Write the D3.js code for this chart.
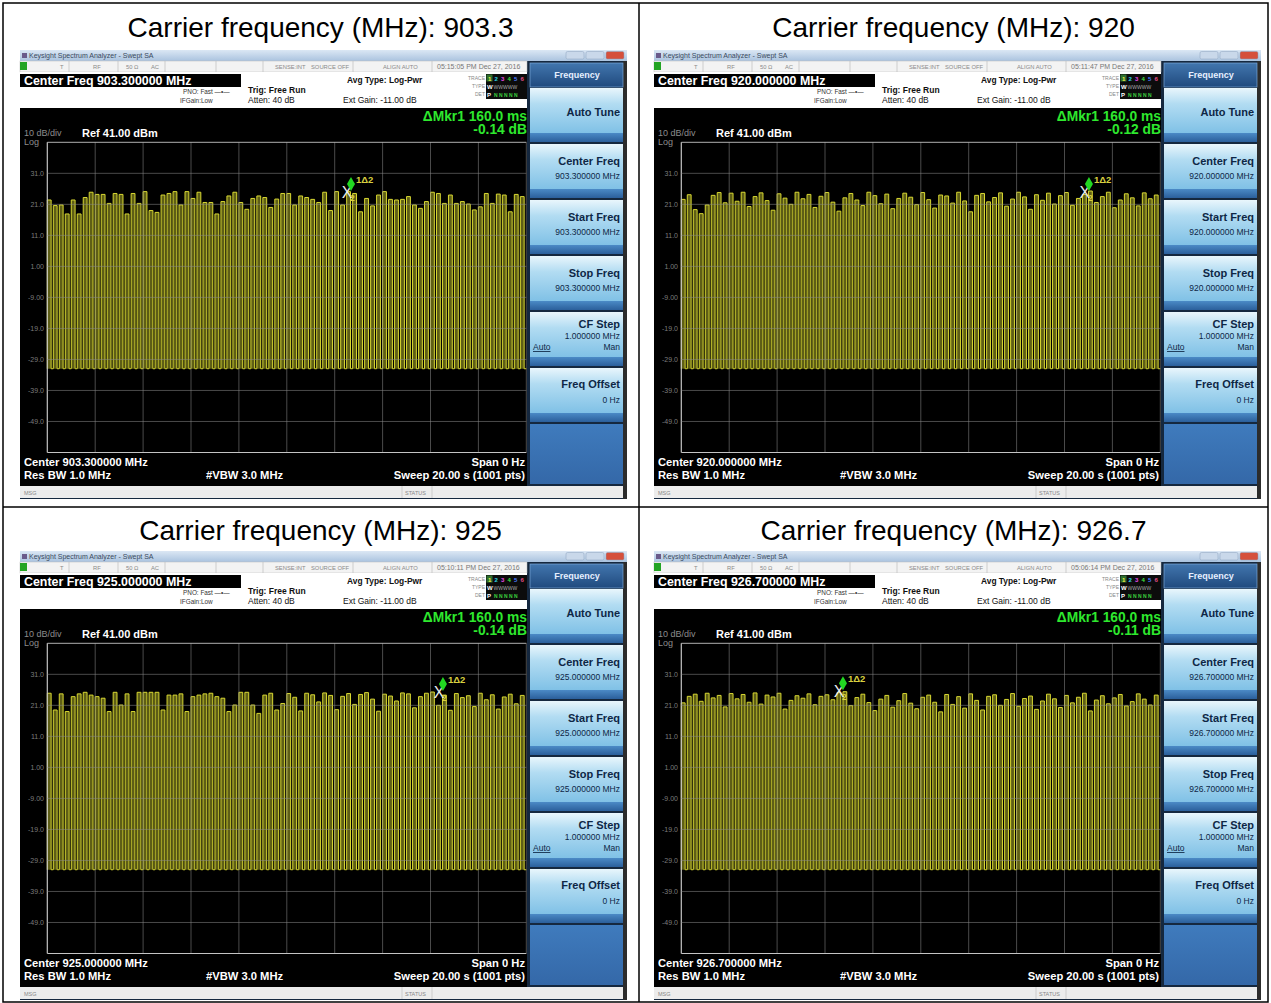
<!DOCTYPE html>
<html>
<head>
<meta charset="utf-8">
<script src="https://cdn.jsdelivr.net/npm/d3@7"></script>
<style>
body { margin: 0; background: #fff; }
svg { display: block; }
text { font-family: "Liberation Sans", Arial, sans-serif; }
</style>
</head>
<body>
<script>
// ---- data ----
const carrierLabels = ['903.3', '920', '925', '926.7']
const centerFreqs = ['903.300000 MHz', '920.000000 MHz', '925.000000 MHz', '926.700000 MHz']
const clockTimes = ['05:15:05 PM Dec 27, 2016', '05:11:47 PM Dec 27, 2016', '05:10:11 PM Dec 27, 2016', '05:06:14 PM Dec 27, 2016']
const markerDeltaTime = '\u0394Mkr1 160.0 ms'
const markerDeltaDb = ['-0.14 dB', '-0.12 dB', '-0.14 dB', '-0.11 dB']
const markerTimes = [12.68, 17.02, 16.52, 6.75]   // s
const markerLevels = [25.3, 25.3, 25.6, 25.9]    // dBm

const sweepTime = 20        // s
const pulsePeriod = 0.25    // s
const pulseWidth = 0.16     // s
const noiseFloor = -32      // dBm
const refLevel = 41
const dbPerDiv = 10

const pulsePeaks903 = [
    22.4, 20.6, 20.8, 17.9, 22.4, 17.9, 23.2, 24.9, 24.2, 24.2,
    21.3, 24.5, 24.2, 17.9, 24.5, 21.3, 25.1, 19.0, 18.4, 24.0,
    24.5, 25.1, 20.8, 25.1, 22.9, 24.9, 21.6, 21.6, 17.9, 21.9,
    23.7, 24.9, 21.6, 19.4, 22.9, 23.7, 23.2, 20.0, 22.7, 24.5,
    24.5, 20.8, 23.7, 23.2, 22.6, 21.6, 24.9, 19.0, 25.1, 20.8,
    25.1, 24.5, 18.6, 22.9, 20.5, 24.0, 25.1, 22.6, 22.4, 22.6,
    23.5, 20.8, 19.7, 21.9, 24.9, 24.5, 21.3, 24.0, 21.3, 21.9,
    21.1, 19.2, 20.2, 24.5, 21.3, 24.3, 24.0, 18.6, 24.2, 23.5
]
const pulsePeaks920 = [
    22.6, 24.1, 19.3, 18.0, 20.8, 23.9, 24.8, 21.5, 24.6, 22.0,
    24.9, 20.3, 23.5, 24.7, 22.2, 19.1, 24.4, 23.0, 21.0, 24.9,
    22.8, 24.2, 20.0, 23.6, 24.8, 21.7, 18.8, 23.1, 24.5, 22.4,
    20.6, 24.9, 23.8, 21.2, 24.3, 19.6, 22.9, 24.6, 23.3, 20.9,
    24.8, 22.5, 19.8, 24.0, 23.7, 21.4, 24.9, 22.1, 18.6, 23.9,
    24.5, 21.8, 23.2, 24.7, 20.4, 22.7, 24.9, 23.4, 19.4, 24.1,
    22.3, 24.6, 21.1, 23.8, 24.8, 20.7, 22.9, 24.2, 25.3, 21.6,
    23.5, 24.9, 19.9, 22.4, 24.4, 23.1, 20.5, 24.7, 22.8, 24.0
]
const pulsePeaks925 = [
    24.9, 19.5, 24.7, 19.0, 23.8, 24.7, 25.2, 24.3, 23.8, 23.3,
    19.0, 25.2, 21.1, 24.7, 19.0, 25.2, 25.2, 25.2, 25.2, 19.5,
    24.3, 24.3, 24.7, 19.0, 23.8, 24.3, 24.7, 24.9, 23.8, 23.3,
    19.0, 21.1, 25.2, 25.2, 21.1, 18.4, 24.3, 24.9, 19.5, 21.6,
    24.8, 23.6, 19.2, 24.9, 24.4, 22.1, 25.0, 24.2, 19.6, 23.9,
    24.8, 21.3, 24.5, 25.1, 23.0, 19.1, 24.6, 24.0, 22.4, 25.0,
    24.7, 20.2, 23.8, 24.9, 25.3, 21.0, 24.3, 19.4, 24.8, 23.5,
    24.1, 20.6, 24.9, 22.8, 24.4, 19.8, 23.7, 24.6, 21.5, 24.2
]
const pulsePeaks926 = [
    21.8, 23.9, 24.6, 22.3, 24.9, 23.4, 24.2, 20.5, 24.8, 23.1,
    24.5, 22.0, 25.0, 21.4, 24.3, 23.7, 24.9, 19.8, 22.6, 24.1,
    23.3, 24.7, 21.2, 23.9, 24.4, 22.8, 25.1, 25.4, 20.9, 23.5,
    24.6, 21.9, 19.3, 23.0, 24.2, 20.4, 22.5, 24.8, 21.7, 19.9,
    23.6, 24.3, 22.0, 18.9, 24.5, 21.3, 23.8, 20.1, 24.7, 22.6,
    19.5, 23.9, 24.4, 21.0, 22.9, 24.8, 20.7, 23.2, 24.0, 19.7,
    22.4, 24.6, 23.1, 20.3, 24.2, 21.8, 23.6, 24.9, 19.2, 22.7,
    24.1, 21.5, 23.4, 24.5, 20.8, 22.2, 24.7, 23.0, 21.1, 24.3
]
const pulsePeaks = [pulsePeaks903, pulsePeaks920, pulsePeaks925, pulsePeaks926]

const yTickValues = [31, 21, 11, 1, -9, -19, -29, -39, -49]
const yTickLabels = ['31.0', '21.0', '11.0', '1.00', '-9.00', '-19.0', '-29.0', '-39.0', '-49.0']
const menuTitles = ['Auto Tune', 'Center Freq', 'Start Freq', 'Stop Freq', 'CF Step', 'Freq Offset']

// ---- page layout ----
const W = 1271, H = 1003
const panelOrigins = [[20, 50], [654, 50], [20, 551], [654, 551]]
const titleCenters = [[320.5, 37], [953.5, 37], [320.5, 540], [953.5, 540]]

const svg = d3.select('body').append('svg')
    .attr('width', W)
    .attr('height', H)

svg.append('rect').attr('width', W).attr('height', H).attr('fill', '#fff')

const defs = svg.append('defs')
function grad(id, stops) {
    const lg = defs.append('linearGradient').attr('id', id)
        .attr('x1', 0).attr('y1', 0).attr('x2', 0).attr('y2', 1)
    stops.forEach(s => lg.append('stop').attr('offset', s[0]).attr('stop-color', s[1]))
}
grad('titleGrad', [[0, '#dbe7f4'], [1, '#aac3df']])
grad('btnGrad', [[0, '#e9f6fc'], [0.35, '#b2dcf2'], [1, '#80c1e6']])
grad('stripGrad', [[0, '#4b8ac6'], [1, '#2b5f9b']])
grad('headGrad', [[0, '#4276ae'], [1, '#204a7e']])
grad('emptyGrad', [[0, '#3f7bbd'], [1, '#3468a8']])

// table lines
const tbl = svg.append('g').attr('stroke', '#000').attr('stroke-width', 1.5).attr('fill', 'none')
tbl.append('rect').attr('x', 3).attr('y', 3).attr('width', 1265).attr('height', 999)
tbl.append('line').attr('x1', 639).attr('x2', 639).attr('y1', 3).attr('y2', 1002)
tbl.append('line').attr('x1', 3).attr('x2', 1268).attr('y1', 507).attr('y2', 507)

titleCenters.forEach((c, k) => {
    svg.append('text')
        .attr('x', c[0]).attr('y', c[1])
        .attr('text-anchor', 'middle')
        .attr('font-size', 28)
        .attr('fill', '#000')
        .text('Carrier frequency (MHz): ' + carrierLabels[k])
})

function txt(g, x, y, s, size, fill, opts = {}) {
    return g.append('text')
        .attr('x', x).attr('y', y)
        .attr('font-size', size)
        .attr('fill', fill)
        .attr('font-weight', opts.bold ? 'bold' : null)
        .attr('text-anchor', opts.anchor || 'start')
        .text(s)
}

function drawPanel(k) {
    const [ox, oy] = panelOrigins[k]
    const g = svg.append('g').attr('transform', `translate(${ox},${oy})`)

    // frame + menu background
    g.append('rect').attr('width', 607).attr('height', 449).attr('fill', '#15283f')
    g.append('rect').attr('x', 603).attr('width', 4).attr('height', 449).attr('fill', '#2c2c2c')

    // window title bar
    g.append('rect').attr('width', 607).attr('height', 11).attr('fill', 'url(#titleGrad)')
    g.append('rect').attr('x', 2).attr('y', 3).attr('width', 5).attr('height', 5).attr('fill', '#6a5a8a')
    txt(g, 9, 8.3, 'Keysight Spectrum Analyzer - Swept SA', 7, '#3a4a5e')
    ;[[546, '#c9d8ea'], [566, '#c9d8ea'], [586, '#d5503c']].forEach(b => {
        g.append('rect').attr('x', b[0]).attr('y', 1.5).attr('width', 18).attr('height', 7.5)
            .attr('rx', 1.5).attr('fill', b[1]).attr('stroke', '#8aa0bc').attr('stroke-width', 0.5)
    })

    // status row
    g.append('rect').attr('y', 11).attr('width', 507).attr('height', 11).attr('fill', '#f3f3f3')
        .attr('stroke', '#bbb').attr('stroke-width', 0.5)
    g.append('rect').attr('y', 12).attr('width', 7).attr('height', 8).attr('fill', '#24a424')
    ;[49, 98, 145, 196, 243, 333, 412].forEach(x => {
        g.append('line').attr('x1', x).attr('x2', x).attr('y1', 11).attr('y2', 22)
            .attr('stroke', '#b5b5b5').attr('stroke-width', 0.6)
    })
    const st = [[40, 'T'], [73, 'RF'], [106, '50 \u03a9'], [131, 'AC'], [255, 'SENSE:INT'], [291, 'SOURCE OFF'],
        [363, 'ALIGN AUTO']]
    st.forEach(s => txt(g, s[0], 19, s[1], 5.8, '#8a8a8a'))
    txt(g, 417, 19, clockTimes[k], 7, '#777')

    // settings area
    g.append('rect').attr('y', 22).attr('width', 507).attr('height', 36).attr('fill', '#fff')
    g.append('rect').attr('y', 24).attr('width', 221).attr('height', 13).attr('fill', '#000')
    txt(g, 4, 35, 'Center Freq ' + centerFreqs[k], 12.4, '#fff', {bold: true})
    txt(g, 163, 44, 'PNO: Fast  \u2014\u2022\u2014', 6.4, '#333')
    txt(g, 160, 52.5, 'IFGain:Low', 6.4, '#333')
    txt(g, 228, 43, 'Trig: Free Run', 8.5, '#111', {bold: true})
    txt(g, 228, 53, 'Atten: 40 dB', 8.5, '#111')
    txt(g, 327, 33, 'Avg Type: Log-Pwr', 8.4, '#111', {bold: true})
    txt(g, 323, 52.5, 'Ext Gain: -11.00 dB', 8.5, '#111')

    // trace/type/det box
    ;[[30, 'TRACE'], [38, 'TYPE'], [46, 'DET']].forEach(r => txt(g, 465, r[0], r[1], 5, '#888', {anchor: 'end'}))
    g.append('rect').attr('x', 466).attr('y', 24).attr('width', 41).attr('height', 25).attr('fill', '#0c0c0c')
    g.append('rect').attr('x', 466.5).attr('y', 24.5).attr('width', 6).attr('height', 7).attr('fill', '#2e6e2e')
    const trCols = ['#f0f040', '#30d8e8', '#e84ae8', '#40e040', '#4d7dff', '#e85088']
    trCols.forEach((c, i) => txt(g, 468 + i * 6.5, 30.5, String(i + 1), 6, c, {bold: true}))
    txt(g, 467, 38.5, 'W', 6, '#fff', {bold: true})
    txt(g, 473.5, 38.5, 'WWWWW', 5, '#aaa')
    txt(g, 467, 47, 'P', 6, '#fff', {bold: true})
    txt(g, 474, 47, 'N N N N N', 5, '#3cd23c', {bold: true})

    // black display area
    g.append('rect').attr('y', 58).attr('width', 507).attr('height', 378).attr('fill', '#000')

    txt(g, 507, 71, markerDeltaTime, 13.8, '#2ee82e', {bold: true, anchor: 'end'})
    txt(g, 507, 84, markerDeltaDb[k], 13.8, '#2ee82e', {bold: true, anchor: 'end'})
    txt(g, 4, 86, '10 dB/div', 9, '#8c8c8c')
    txt(g, 4, 94.5, 'Log', 9, '#8c8c8c')
    txt(g, 62, 87, 'Ref 41.00 dBm', 11, '#fff', {bold: true})

    // scales
    const x = d3.scaleLinear().domain([0, sweepTime]).range([27.3, 506.3])
    const y = d3.scaleLinear().domain([refLevel - 10 * dbPerDiv, refLevel]).range([402.5, 92.3])

    // pulses
    const peaks = pulsePeaks[k]
    const tr = g.append('g')
    tr.selectAll('rect.pulse')
        .data(peaks)
        .enter()
        .append('rect')
        .attr('class', 'pulse')
        .attr('x', (d, i) => x(i * pulsePeriod))
        .attr('width', x(pulseWidth) - x(0))
        .attr('y', d => y(d))
        .attr('height', d => y(noiseFloor) - y(d))
        .attr('fill', '#5e5e16')

    const pts = [[0, noiseFloor]]
    peaks.forEach((d, i) => {
        const t0 = i * pulsePeriod, t1 = t0 + pulseWidth
        pts.push([t0, noiseFloor], [t0, d], [t1, d], [t1, noiseFloor])
    })
    pts.push([sweepTime, noiseFloor])
    tr.append('path')
        .attr('d', d3.line().x(p => x(p[0])).y(p => y(p[1]))(pts))
        .attr('fill', 'none')
        .attr('stroke', '#d8d832')
        .attr('stroke-width', 1)

    // graticule
    const gr = g.append('g')
    gr.selectAll('line.v')
        .data(d3.range(0, sweepTime + 0.01, sweepTime / 10))
        .enter().append('line')
        .attr('x1', d => x(d)).attr('x2', d => x(d))
        .attr('y1', y.range()[1]).attr('y2', y.range()[0])
        .attr('stroke', (d, i) => i === 0 ? '#c4c4c4' : '#8a8a8a')
        .attr('stroke-opacity', (d, i) => i === 0 ? 1 : 0.6)
        .attr('stroke-width', (d, i) => i === 0 ? 1.2 : 0.9)
    gr.selectAll('line.h')
        .data(d3.range(refLevel - 10 * dbPerDiv, refLevel + 0.01, dbPerDiv))
        .enter().append('line')
        .attr('x1', x.range()[0]).attr('x2', x.range()[1])
        .attr('y1', d => y(d)).attr('y2', d => y(d))
        .attr('stroke', (d, i) => i === 0 || i === 10 ? '#c4c4c4' : '#8a8a8a')
        .attr('stroke-opacity', (d, i) => i === 0 || i === 10 ? 1 : 0.6)
        .attr('stroke-width', (d, i) => i === 0 ? 1.2 : 0.9)

    yTickValues.forEach((v, i) => {
        txt(g, 24, y(v) + 2.5, yTickLabels[i], 7, '#7c7c7c', {anchor: 'end'})
    })

    // marker
    const mx = x(markerTimes[k]), my = y(markerLevels[k])
    const mk = g.append('g').attr('transform', `translate(${mx},${my})`)
    mk.append('text').attr('x', -4).attr('y', 7).attr('text-anchor', 'middle')
        .attr('font-size', 16).attr('fill', '#ececec').text('X')
    mk.append('text').attr('x', -1).attr('y', 10).attr('font-size', 8.5)
        .attr('fill', '#d8d040').attr('font-weight', 'bold').text('2')
    mk.append('path').attr('d', 'M0,-14 L4,-7 L0,0 L-4,-7 Z').attr('fill', '#22d822')
    mk.append('text').attr('x', 5).attr('y', -8.5).attr('font-size', 9.5)
        .attr('fill', '#d8d040').attr('font-weight', 'bold').text('1\u03942')

    // bottom annotations
    txt(g, 4, 416, 'Center ' + centerFreqs[k], 11.2, '#fff', {bold: true})
    txt(g, 4, 429, 'Res BW 1.0 MHz', 11.2, '#fff', {bold: true})
    txt(g, 186, 429, '#VBW 3.0 MHz', 11.2, '#fff', {bold: true})
    txt(g, 505, 416, 'Span 0 Hz', 11.2, '#fff', {bold: true, anchor: 'end'})
    txt(g, 505, 429, 'Sweep  20.00 s (1001 pts)', 11.2, '#fff', {bold: true, anchor: 'end'})

    // message bar
    g.append('rect').attr('y', 436).attr('width', 603).attr('height', 12).attr('fill', '#ececec')
    txt(g, 4, 444.5, 'MSG', 5.5, '#888')
    ;[382, 412].forEach(xx => g.append('line').attr('x1', xx).attr('x2', xx).attr('y1', 436).attr('y2', 448)
        .attr('stroke', '#bbb').attr('stroke-width', 0.6))
    txt(g, 385, 444.5, 'STATUS', 5.5, '#888')

    // soft-key menu
    const m = g.append('g')
    m.append('rect').attr('x', 510).attr('y', 13).attr('width', 93).attr('height', 24)
        .attr('fill', 'url(#headGrad)').attr('stroke', '#7aa6d6').attr('stroke-width', 0.7)
    txt(m, 557, 28, 'Frequency', 9, '#e6efff', {bold: true, anchor: 'middle'})

    menuTitles.forEach((t, j) => {
        const y0 = 38 + 56 * j
        m.append('rect').attr('x', 510).attr('y', y0).attr('width', 93).attr('height', 45)
            .attr('fill', 'url(#btnGrad)')
        m.append('rect').attr('x', 510).attr('y', y0 + 45).attr('width', 93).attr('height', 9)
            .attr('fill', 'url(#stripGrad)')
        const dark = '#0e2746'
        if (j === 0) {
            txt(m, 600, y0 + 28, t, 11, dark, {bold: true, anchor: 'end'})
        } else if (j <= 3) {
            txt(m, 600, y0 + 20.5, t, 11, dark, {bold: true, anchor: 'end'})
            txt(m, 600, y0 + 34.5, centerFreqs[k], 8.5, dark, {anchor: 'end'})
        } else if (j === 4) {
            txt(m, 600, y0 + 16, t, 11, dark, {bold: true, anchor: 'end'})
            txt(m, 600, y0 + 27, '1.000000 MHz', 8.5, dark, {anchor: 'end'})
            txt(m, 513, y0 + 38, 'Auto', 8.5, dark).attr('text-decoration', 'underline')
            txt(m, 600, y0 + 38, 'Man', 8.5, dark, {anchor: 'end'})
        } else {
            txt(m, 600, y0 + 19.5, t, 11, dark, {bold: true, anchor: 'end'})
            txt(m, 600, y0 + 34.5, '0 Hz', 8.5, dark, {anchor: 'end'})
        }
    })
    m.append('rect').attr('x', 510).attr('y', 374).attr('width', 93).attr('height', 60)
        .attr('fill', 'url(#emptyGrad)')
}

d3.range(4).forEach(drawPanel)
</script>
</body>
</html>
